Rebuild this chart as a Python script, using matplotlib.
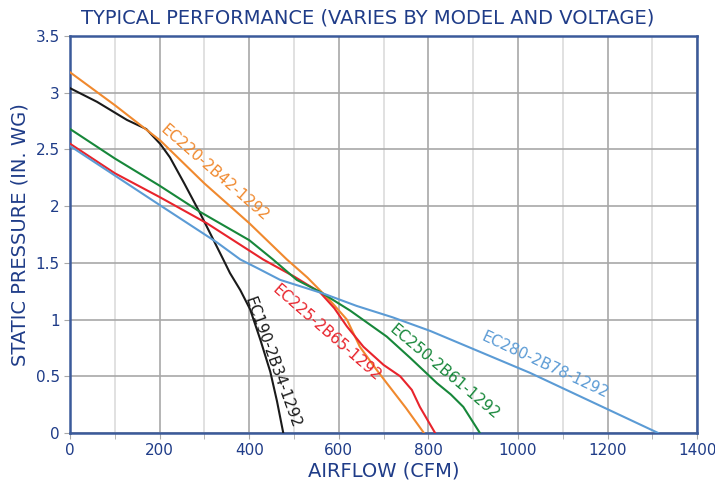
import numpy as np
import matplotlib
matplotlib.use("Agg")
import matplotlib.pyplot as plt
from matplotlib.ticker import MultipleLocator

# curve data (airflow CFM, static pressure in. WG)
ec190_x = [0, 60, 127, 170, 201, 223, 255, 290, 342, 357, 380, 402, 425, 447, 462, 476]
ec190_y = [3.04, 2.92, 2.76, 2.68, 2.55, 2.43, 2.2, 1.94, 1.53, 1.41, 1.26, 1.09, 0.82, 0.54, 0.28, 0]

ec220_x = [0, 100, 201, 300, 400, 484, 530, 580, 618, 647, 680, 707, 750, 790]
ec220_y = [3.18, 2.89, 2.58, 2.2, 1.85, 1.53, 1.37, 1.17, 1.0, 0.76, 0.58, 0.44, 0.22, 0]

ec225_x = [0, 100, 200, 305, 431, 500, 558, 590, 618, 655, 700, 737, 763, 781, 815]
ec225_y = [2.55, 2.29, 2.08, 1.85, 1.53, 1.38, 1.24, 1.1, 0.94, 0.76, 0.6, 0.5, 0.38, 0.23, 0]

ec250_x = [0, 100, 200, 290, 400, 453, 506, 560, 625, 707, 760, 819, 850, 878, 915]
ec250_y = [2.68, 2.42, 2.18, 1.95, 1.7, 1.53, 1.35, 1.24, 1.08, 0.85, 0.66, 0.44, 0.34, 0.23, 0]

ec280_x = [0, 100, 200, 328, 380, 420, 469, 565, 640, 720, 804, 1027, 1313]
ec280_y = [2.53, 2.27, 2.01, 1.68, 1.53, 1.45, 1.35, 1.23, 1.12, 1.02, 0.9, 0.53, 0]

labels = ["EC190-2B34-1292", "EC220-2B42-1292", "EC225-2B65-1292",
          "EC250-2B61-1292", "EC280-2B78-1292"]

navy = "#1f3c88"
spine_col = "#3b5a9a"

plt.rcParams["font.family"] = ["DejaVu Sans"]

fig = plt.figure(figsize=(7.15, 4.84), dpi=100)
ax = fig.add_axes([0.098, 0.1054, 0.877, 0.8202])

curves = [
    (ec190_x, ec190_y, "#1a1a1a"),
    (ec220_x, ec220_y, "#f0892e"),
    (ec225_x, ec225_y, "#e8242c"),
    (ec250_x, ec250_y, "#17873a"),
    (ec280_x, ec280_y, "#5b9bd5"),
]
for x, y, c in curves:
    ax.plot(x, y, color=c, lw=1.5, zorder=3)

# curve labels (position, angle)
lab_pos = [(452, 0.62, -70), (322, 2.29, -41), (572, 0.88, -41), (836, 0.54, -40), (1060, 0.6, -25)]
for (x, y, c), name, (lx, ly, rot) in zip(curves, labels, lab_pos):
    ax.text(lx, ly, name, color=c, fontsize=11, rotation=rot,
            ha="center", va="center", rotation_mode="anchor", zorder=4)

ax.set_xlim(0, 1400)
ax.set_ylim(0, 3.5)
ax.xaxis.set_major_locator(MultipleLocator(200))
ax.xaxis.set_minor_locator(MultipleLocator(100))
ax.set_yticks([0, 0.5, 1, 1.5, 2, 2.5, 3, 3.5])
ax.set_yticklabels(["0", "0.5", "1", "1.5", "2", "2.5", "3", "3.5"])

ax.grid(which="major", axis="both", color="#a8a8a8", lw=1.2, zorder=0)
ax.grid(which="minor", axis="x", color="#dcdcdc", lw=1.2, zorder=0)

for s in ax.spines.values():
    s.set_color(spine_col)
    s.set_linewidth(1.8)

ax.tick_params(which="both", colors="#a8a8a8", labelcolor=navy, labelsize=11, length=4)

ax.set_xlabel("AIRFLOW (CFM)", color=navy, fontsize=14, labelpad=2)
ax.set_ylabel("STATIC PRESSURE (IN. WG)", color=navy, fontsize=14, labelpad=4)
fig.text(0.514, 0.962, "TYPICAL PERFORMANCE (VARIES BY MODEL AND VOLTAGE)",
         color=navy, fontsize=14, ha="center", va="center")

fig.savefig("out.png", dpi=100)
